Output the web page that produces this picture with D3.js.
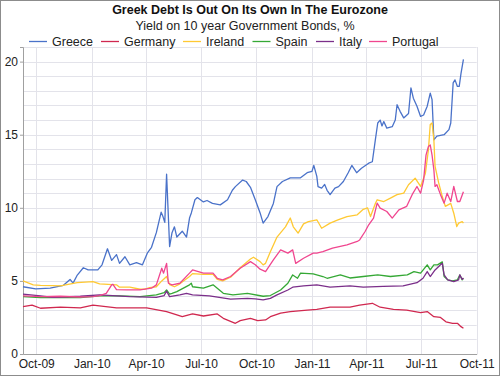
<!DOCTYPE html>
<html><head><meta charset="utf-8">
<script src="https://cdn.jsdelivr.net/npm/d3@7"></script>
<style>body{margin:0;background:#fff}svg{display:block;font-family:"Liberation Sans",Arial,sans-serif}</style>
</head><body><svg id="c" width="500" height="376"></svg>
<script>
const seriesNames = ["Greece","Germany","Ireland","Spain","Italy","Portugal"];
const seriesColors = ["#4a72c9","#d0284f","#ffc933","#35a835","#7b2f8a","#f0468f"];
const xTickLabels = ["Oct-09","Jan-10","Apr-10","Jul-10","Oct-10","Jan-11","Apr-11","Jul-11","Oct-11"];
const yTicks = [0,5,10,15,20];

const greece = [["2009-09-09",4.6],["2009-09-30",4.45],["2009-10-24",4.5],["2009-11-15",4.7],["2009-11-26",5.1],["2009-12-01",4.85],["2009-12-08",5.4],["2009-12-18",5.9],["2009-12-26",5.75],["2010-01-11",5.75],["2010-01-18",6.1],["2010-01-27",7.2],["2010-02-03",6.4],["2010-02-11",6.8],["2010-02-16",6.2],["2010-02-25",6.65],["2010-03-05",6.1],["2010-03-16",6.25],["2010-03-26",6.1],["2010-04-03",6.9],["2010-04-10",7.3],["2010-04-18",8.3],["2010-04-26",9.7],["2010-04-29",9.4],["2010-05-02",9.0],["2010-05-05",12.3],["2010-05-10",7.35],["2010-05-14",8.3],["2010-05-18",8.7],["2010-05-22",8.0],["2010-05-31",8.4],["2010-06-07",8.0],["2010-06-12",9.3],["2010-06-15",9.65],["2010-06-21",10.55],["2010-06-25",10.7],["2010-07-05",10.4],["2010-07-11",10.5],["2010-07-20",10.3],["2010-08-02",10.2],["2010-08-14",10.55],["2010-08-22",11.2],["2010-08-27",11.45],["2010-09-08",11.9],["2010-09-14",11.8],["2010-09-21",11.4],["2010-09-29",10.55],["2010-10-07",9.65],["2010-10-12",8.95],["2010-10-20",9.4],["2010-10-29",10.3],["2010-11-04",11.45],["2010-11-13",11.8],["2010-11-26",12.05],["2010-12-13",12.05],["2010-12-24",12.4],["2011-01-01",12.5],["2011-01-04",12.9],["2011-01-09",12.15],["2011-01-11",11.45],["2011-01-17",11.35],["2011-01-22",11.6],["2011-01-26",11.2],["2011-01-31",10.9],["2011-02-08",11.35],["2011-02-14",11.45],["2011-02-22",11.8],["2011-03-02",12.4],["2011-03-08",12.9],["2011-03-16",12.4],["2011-03-24",12.7],["2011-04-05",13.05],["2011-04-11",13.15],["2011-04-16",14.65],["2011-04-20",15.8],["2011-04-24",16.0],["2011-04-27",15.6],["2011-04-30",15.9],["2011-05-05",15.45],["2011-05-14",15.55],["2011-05-19",16.0],["2011-05-22",17.05],["2011-05-27",16.6],["2011-06-02",16.15],["2011-06-10",16.45],["2011-06-14",18.2],["2011-06-18",17.5],["2011-06-24",16.95],["2011-06-30",16.25],["2011-07-05",16.35],["2011-07-11",16.95],["2011-07-16",17.85],["2011-07-19",17.4],["2011-07-22",14.65],["2011-07-27",14.9],["2011-08-08",15.0],["2011-08-16",15.35],["2011-08-19",15.8],["2011-08-23",18.55],["2011-08-26",18.75],["2011-08-30",18.3],["2011-09-02",18.3],["2011-09-05",19.2],["2011-09-09",20.15]];

const germany = [["2009-09-09",3.24],["2009-09-24",3.35],["2009-10-08",3.13],["2009-11-10",3.2],["2009-12-13",3.15],["2010-01-03",3.35],["2010-02-11",3.15],["2010-04-02",3.15],["2010-05-05",2.9],["2010-05-22",2.67],["2010-05-31",2.55],["2010-06-17",2.74],["2010-07-05",2.6],["2010-07-28",2.74],["2010-08-07",2.44],["2010-08-27",2.1],["2010-09-04",2.28],["2010-09-21",2.44],["2010-10-03",2.28],["2010-10-16",2.33],["2010-10-24",2.55],["2010-11-10",2.79],["2010-11-26",2.9],["2010-12-24",3.0],["2011-01-09",3.05],["2011-01-31",3.2],["2011-03-05",3.2],["2011-03-21",3.35],["2011-04-11",3.47],["2011-04-24",3.2],["2011-05-16",3.05],["2011-06-07",3.0],["2011-06-30",2.83],["2011-07-11",2.9],["2011-07-22",2.55],["2011-08-02",2.5],["2011-08-11",2.2],["2011-08-22",2.1],["2011-08-30",2.1],["2011-09-05",1.87],["2011-09-09",1.76]];

const ireland = [["2009-09-09",5.0],["2009-09-26",4.73],["2009-10-08",4.7],["2009-10-29",4.68],["2009-11-10",4.66],["2009-12-08",4.88],["2010-01-03",4.95],["2010-01-14",4.8],["2010-02-11",4.73],["2010-02-16",4.57],["2010-03-05",4.57],["2010-03-22",4.43],["2010-03-30",4.43],["2010-04-07",4.54],["2010-04-18",4.6],["2010-04-27",5.0],["2010-05-05",5.3],["2010-05-10",4.75],["2010-05-18",4.6],["2010-05-27",4.8],["2010-06-12",5.3],["2010-06-17",5.5],["2010-07-05",5.45],["2010-07-21",5.45],["2010-07-28",5.1],["2010-08-06",5.0],["2010-08-19",5.25],["2010-09-04",5.9],["2010-09-21",6.5],["2010-09-26",6.62],["2010-10-07",6.32],["2010-10-12",6.1],["2010-10-16",6.2],["2010-10-24",7.0],["2010-11-04",8.0],["2010-11-18",8.7],["2010-11-26",9.3],["2010-12-01",8.7],["2010-12-09",8.27],["2010-12-18",8.9],["2010-12-26",9.06],["2011-01-09",9.18],["2011-01-17",8.6],["2011-01-31",8.95],["2011-02-13",9.18],["2011-02-28",9.4],["2011-03-17",9.52],["2011-03-27",9.9],["2011-04-03",10.0],["2011-04-08",9.4],["2011-04-16",10.3],["2011-04-19",10.55],["2011-04-30",10.43],["2011-05-11",10.66],["2011-05-22",10.9],["2011-06-02",11.0],["2011-06-10",11.58],["2011-06-21",12.03],["2011-06-30",11.46],["2011-07-08",12.37],["2011-07-13",13.97],["2011-07-16",15.7],["2011-07-19",15.8],["2011-07-22",14.66],["2011-07-24",12.83],["2011-07-30",11.7],["2011-08-05",10.77],["2011-08-10",10.1],["2011-08-19",10.3],["2011-08-24",9.63],["2011-08-29",8.72],["2011-09-01",8.95],["2011-09-07",9.06],["2011-09-09",8.95]];

const spain = [["2009-09-09",3.92],["2009-10-08",3.85],["2009-11-10",3.85],["2009-12-13",3.85],["2010-01-14",3.97],["2010-02-16",3.97],["2010-03-22",3.92],["2010-04-18",4.04],["2010-05-01",4.2],["2010-05-05",4.38],["2010-05-10",4.1],["2010-05-14",4.15],["2010-05-22",4.27],["2010-06-12",4.73],["2010-06-15",4.84],["2010-06-17",4.6],["2010-07-05",4.5],["2010-07-21",4.73],["2010-08-07",4.15],["2010-08-23",4.04],["2010-09-16",4.15],["2010-10-12",3.95],["2010-10-24",4.0],["2010-11-10",4.38],["2010-11-22",4.84],["2010-11-30",5.41],["2010-12-08",5.18],["2010-12-13",5.53],["2011-01-03",5.48],["2011-01-19",5.3],["2011-01-26",5.18],["2011-02-17",5.41],["2011-03-05",5.2],["2011-03-27",5.3],["2011-04-20",5.41],["2011-05-11",5.3],["2011-06-08",5.41],["2011-06-19",5.64],["2011-06-30",5.53],["2011-07-11",6.1],["2011-07-16",5.75],["2011-07-22",6.1],["2011-07-28",6.1],["2011-08-05",6.3],["2011-08-08",5.3],["2011-08-14",5.07],["2011-08-22",5.0],["2011-08-30",5.07],["2011-09-03",5.41],["2011-09-07",5.07],["2011-09-09",5.18]];

const italy = [["2009-09-09",4.09],["2009-10-08",3.97],["2009-10-29",3.88],["2009-12-13",3.95],["2010-01-14",4.04],["2010-03-05",3.92],["2010-04-18",3.88],["2010-05-01",4.0],["2010-05-05",4.3],["2010-05-10",3.92],["2010-05-27",4.04],["2010-06-07",4.15],["2010-06-17",4.04],["2010-07-15",3.97],["2010-08-19",3.75],["2010-09-16",3.81],["2010-09-29",3.77],["2010-10-12",3.7],["2010-10-24",3.8],["2010-11-04",4.04],["2010-11-22",4.38],["2010-11-30",4.57],["2010-12-18",4.66],["2011-01-09",4.73],["2011-01-31",4.57],["2011-03-05",4.66],["2011-03-27",4.57],["2011-04-29",4.62],["2011-06-01",4.66],["2011-06-24",4.88],["2011-07-04",5.18],["2011-07-11",5.64],["2011-07-16",5.3],["2011-07-24",5.75],["2011-08-02",6.1],["2011-08-05",6.2],["2011-08-08",5.41],["2011-08-14",5.07],["2011-08-24",4.95],["2011-09-01",5.07],["2011-09-03",5.41],["2011-09-07",5.1],["2011-09-09",5.2]];

const portugal = [["2009-09-09",3.97],["2009-10-08",3.92],["2009-11-10",3.95],["2009-12-13",3.9],["2010-01-03",3.92],["2010-01-14",4.0],["2010-01-25",4.15],["2010-02-03",4.73],["2010-02-05",4.77],["2010-02-11",4.4],["2010-02-28",4.38],["2010-03-22",4.38],["2010-04-10",4.5],["2010-04-18",4.73],["2010-04-27",5.87],["2010-04-30",5.53],["2010-05-05",6.2],["2010-05-08",4.84],["2010-05-14",4.73],["2010-05-27",4.84],["2010-06-12",5.53],["2010-06-17",5.75],["2010-07-05",5.53],["2010-07-21",5.53],["2010-07-28",5.18],["2010-08-06",5.07],["2010-08-19",5.3],["2010-09-04",5.87],["2010-09-21",6.32],["2010-09-29",6.1],["2010-10-07",5.8],["2010-10-16",5.64],["2010-10-29",6.44],["2010-11-10",7.12],["2010-11-22",6.9],["2010-11-30",7.12],["2010-12-05",6.2],["2010-12-18",6.55],["2011-01-03",6.9],["2011-01-09",6.9],["2011-01-19",7.0],["2011-02-04",7.24],["2011-02-28",7.47],["2011-03-17",7.7],["2011-03-21",7.8],["2011-03-30",8.38],["2011-04-05",8.84],["2011-04-13",9.3],["2011-04-19",10.32],["2011-04-24",9.98],["2011-05-05",9.75],["2011-05-14",9.3],["2011-05-25",9.86],["2011-06-07",10.1],["2011-06-16",10.9],["2011-06-24",11.46],["2011-06-30",11.0],["2011-07-05",11.9],["2011-07-09",13.6],["2011-07-13",14.2],["2011-07-16",14.3],["2011-07-19",13.6],["2011-07-22",12.6],["2011-07-24",11.46],["2011-07-27",11.58],["2011-08-02",10.9],["2011-08-08",10.32],["2011-08-13",11.0],["2011-08-19",10.43],["2011-08-24",11.46],["2011-08-30",10.43],["2011-09-03",10.43],["2011-09-09",11.1]];

const allSeries = [greece, germany, ireland, spain, italy, portugal];

const parse = d3.timeParse("%Y-%m-%d");
const svg = d3.select("#c");
const W = 500, H = 376;
const m = {left:23, right:476.7, top:47, bottom:354};

const x = d3.scaleTime().domain([parse("2009-09-09"), parse("2011-10-01")]).range([m.left, m.right]);
const y = d3.scaleLinear().domain([0,21]).range([m.bottom, m.top]);

svg.append("rect").attr("x",0.5).attr("y",0.5).attr("width",W-1).attr("height",H-1).attr("fill","#fff").attr("stroke","#8c8c8c");

// grid
const tickDates = xTickLabels.map(s => d3.timeParse("%b-%y")(s));
const g = svg.append("g");
g.selectAll("line.h").data(d3.range(1,22)).join("line")
  .attr("x1",m.left).attr("x2",m.right).attr("y1",d=>Math.round(y(d))+0.5).attr("y2",d=>Math.round(y(d))+0.5)
  .attr("stroke","#e3e3ea").attr("stroke-width",1);
g.selectAll("line.v").data(tickDates).join("line")
  .attr("y1",m.top).attr("y2",m.bottom).attr("x1",d=>Math.round(x(d))+0.5).attr("x2",d=>Math.round(x(d))+0.5)
  .attr("stroke","#e3e3ea").attr("stroke-width",1);

// axes
const yAxis = d3.axisLeft(y).tickValues(yTicks).tickSize(3).tickPadding(2).tickFormat(d3.format("d"));
const ya = svg.append("g").attr("transform",`translate(${m.left},0)`).call(yAxis);
ya.select(".domain").attr("stroke","#a0a0a0");
ya.selectAll(".tick line").attr("stroke","#a0a0a0");
ya.selectAll("text").attr("font-size",12).attr("fill","#222").attr("font-family","Liberation Sans, Arial, sans-serif");

const xAxis = d3.axisBottom(x).tickValues(tickDates).tickSize(0).tickPadding(5).tickFormat((d,i)=>xTickLabels[i]);
const xa = svg.append("g").attr("transform",`translate(0,${m.bottom})`).call(xAxis);
xa.select(".domain").attr("stroke","#a0a0a0");
xa.selectAll("text").attr("font-size",12).attr("fill","#222").attr("font-family","Liberation Sans, Arial, sans-serif");

// lines
const line = d3.line().x(d=>x(parse(d[0]))).y(d=>y(d[1]));
svg.append("g").selectAll("path").data(allSeries).join("path")
  .attr("d",line).attr("fill","none")
  .attr("stroke",(d,i)=>seriesColors[i]).attr("stroke-width",1.3).attr("stroke-linejoin","round");

// titles
svg.append("text").attr("x",250).attr("y",14).attr("text-anchor","middle")
  .attr("font-size",12.5).attr("font-weight","bold").attr("fill","#111")
  .text("Greek Debt Is Out On Its Own In The Eurozone");
svg.append("text").attr("x",245).attr("y",29.5).attr("text-anchor","middle")
  .attr("font-size",12.5).attr("fill","#222")
  .text("Yield on 10 year Government Bonds, %");

// legend
const legTextX = [52,124,206,275.5,339,392];
const lg = svg.append("g").selectAll("g").data(seriesNames).join("g")
  .attr("transform",(d,i)=>`translate(${legTextX[i]},41.5)`);
lg.append("line").attr("x1",-23).attr("x2",-5).attr("y1",0).attr("y2",0)
  .attr("stroke",(d,i)=>seriesColors[i]).attr("stroke-width",1.3);
lg.append("text").attr("x",0).attr("y",4.5)
  .attr("font-size",12.5).attr("fill","#222").text(d=>d);
</script></body></html>
